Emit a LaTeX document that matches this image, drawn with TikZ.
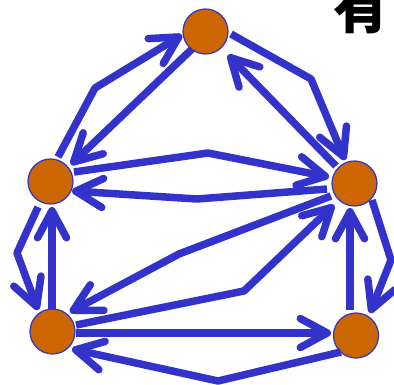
\documentclass[tikz,border=0pt]{standalone}
\usepackage{fontspec}
\newfontfamily\cjk{Noto Sans CJK SC}
\usetikzlibrary{arrows.meta,calc}
\definecolor{vblue}{HTML}{3333CC}
\definecolor{vorange}{HTML}{CC6600}
\tikzset{
  vertex/.style={circle,fill=vorange,draw=vblue,line width=1.2pt,minimum size=45pt,inner sep=0pt},
  edge/.style={draw=vblue,line width=7.5pt,line join=round,-{Straight Barb[length=27pt,width=29pt,round]}}
}
\begin{document}
\begin{tikzpicture}[x=1pt,y=-1pt]
\useasboundingbox (0,0) rectangle (394,385);
\clip (0,0) rectangle (394,385);
\node[vertex] (T) at (205.5,31.5) {};
\node[vertex] (L) at (50.5,181.5) {};
\node[vertex] (R) at (354.5,183.5) {};
\node[vertex] (BL) at (52.5,331.5) {};
\node[vertex] (BR) at (356,335.5) {};
\node[font=\cjk\bfseries\fontsize{56}{56}\selectfont,anchor=base,inner sep=0pt] (title) at (361,29) {有};
% edges
\draw[edge] ($(L)+(7.5,-24.5)$) -- (95,88) -- ($(T)+(-23.5,3.5)$);
\draw[edge] ($(T)+(-13.5,17.5)$) -- ($(L)+(20.5,-17)$);
\draw[edge] ($(T)+(25.5,2.5)$) -- (311,79) -- ($(R)+(-9.5,-23.5)$);
\draw[edge] ($(R)+(-18.5,-17.5)$) -- ($(T)+(22.5,23.5)$);
\draw[edge] ($(L)+(23.5,-9.5)$) -- (208,153) -- ($(R)+(-25.5,-6.5)$);
\draw[edge] ($(R)+(-27.5,5.5)$) -- (197,199) -- ($(L)+(21.5,9.5)$);
\draw[edge] ($(L)+(-12.5,25.5)$) -- (17,253) -- ($(BL)+(-14.5,-21.5)$);
\draw[edge] ($(BL)+(-0.5,-22.5)$) -- ($(L)+(1.5,25.5)$);
\draw[edge] ($(R)+(-23.5,12.5)$) -- (179,254) -- ($(BL)+(17.5,-19.5)$);
\draw[edge] ($(BL)+(23.5,-6.5)$) -- (244,291) -- ($(R)+(-20.5,21.5)$);
\draw[edge] ($(BL)+(23.5,1.5)$) -- ($(BR)+(-25,-2.5)$);
\draw[edge] ($(BR)+(-15,16.5)$) -- (218,381) -- ($(BL)+(19.5,17.5)$);
\draw[edge] ($(BR)+(-6,-25.5)$) -- ($(R)+(-4.5,24.5)$);
\draw[edge] ($(R)+(17.5,16.5)$) -- (391,260) -- ($(BR)+(14,-22.5)$);
\end{tikzpicture}
\end{document}
